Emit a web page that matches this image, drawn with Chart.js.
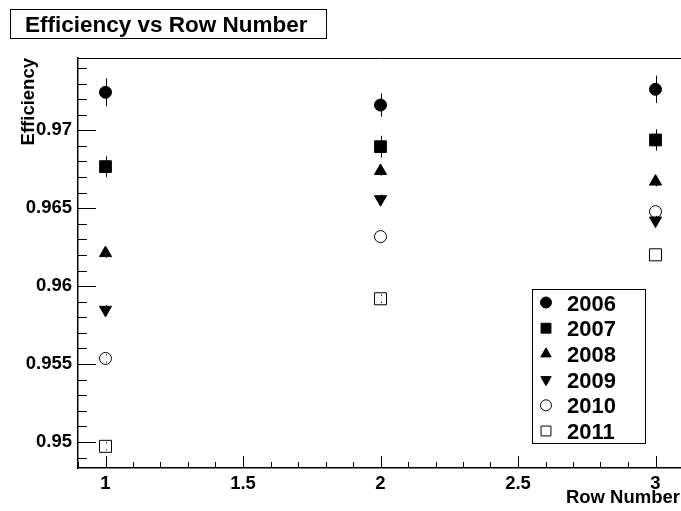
<!DOCTYPE html>
<html>
<head>
<meta charset="utf-8">
<script src="https://cdn.jsdelivr.net/npm/chart.js@4/dist/chart.umd.min.js"></script>
<style>
  html, body { margin: 0; padding: 0; background: #fff; overflow: hidden; }
  #wrap { position: absolute; left: 0; top: 0; width: 700px; height: 511px; }
</style>
</head>
<body>
<div id="wrap"><canvas id="myChart" width="700" height="511"></canvas></div>
<script>
// values
var rows = [1, 2, 3];
var years = ['2006', '2007', '2008', '2009', '2010', '2011'];

var eff2006 = [0.97244, 0.97162, 0.97263];
var eff2007 = [0.96767, 0.96895, 0.96938];
var eff2008 = [0.96212, 0.96739, 0.96671];
var eff2009 = [0.95848, 0.96558, 0.96421];
var eff2010 = [0.95536, 0.96318, 0.96478];
var eff2011 = [0.94972, 0.95919, 0.96201];

var err2006 = [0.0009, 0.00075, 0.00088];
var err2007 = [0.00066, 0.0007, 0.00068];
var err2008 = [0.0003, 0.0003, 0.0003];
var err2009 = [0.0003, 0.0003, 0.0003];
var err2010 = [0.00026, 0.0001, 0.0001];
var err2011 = [0.00026, 0.00028, 0.0001];

var yTicks = [0.95, 0.955, 0.96, 0.965, 0.97];
var xTicks = [1, 1.5, 2, 2.5, 3];

var FONT = '"Liberation Sans", Arial, Helvetica, sans-serif';

var values = [eff2006, eff2007, eff2008, eff2009, eff2010, eff2011];
var errors = [err2006, err2007, err2008, err2009, err2010, err2011];
var styles = [
    {pointStyle: 'circle', rotation: 0, radius: 6, legendRadius: 5.5, fill: '#000'},
    {pointStyle: 'rect', rotation: 0, radius: 8.3, legendRadius: 7, fill: '#000'},
    {pointStyle: 'triangle', rotation: 0, radius: 7, legendRadius: 6, fill: '#000'},
    {pointStyle: 'triangle', rotation: 180, radius: 7, legendRadius: 6, fill: '#000'},
    {pointStyle: 'circle', rotation: 0, radius: 6, legendRadius: 5.5, fill: 'rgba(0,0,0,0)'},
    {pointStyle: 'rect', rotation: 0, radius: 8.5, legendRadius: 7, fill: 'rgba(0,0,0,0)'}
];

var datasets = [];
for (var i = 0; i < years.length; i++) {
    var pts = [];
    for (var j = 0; j < rows.length; j++) {
        pts.push({x: rows[j], y: values[i][j], err: errors[i][j]});
    }
    datasets.push({
        label: years[i],
        data: pts,
        showLine: false,
        pointStyle: styles[i].pointStyle,
        rotation: styles[i].rotation,
        pointRadius: styles[i].radius,
        pointHoverRadius: styles[i].radius,
        backgroundColor: styles[i].fill,
        borderColor: '#000',
        borderWidth: 1
    });
}

function near(v, list) {
    for (var k = 0; k < list.length; k++) {
        if (Math.abs(v - list[k]) < 1e-6) return true;
    }
    return false;
}

// error bars, drawn under the markers
var errorBars = {
    id: 'errorBars',
    beforeDatasetsDraw: function(chart) {
        var ctx = chart.ctx;
        var ys = chart.scales.y, xs = chart.scales.x;
        var gap = 3;
        ctx.save();
        ctx.strokeStyle = '#000';
        ctx.lineWidth = 1;
        chart.data.datasets.forEach(function(ds) {
            ds.data.forEach(function(p) {
                var px = Math.round(xs.getPixelForValue(p.x)) + 0.5;
                var py = ys.getPixelForValue(p.y);
                var top = ys.getPixelForValue(p.y + p.err);
                var bot = ys.getPixelForValue(p.y - p.err);
                ctx.beginPath();
                if (py - top > gap) { ctx.moveTo(px, top); ctx.lineTo(px, py - gap); }
                if (bot - py > gap) { ctx.moveTo(px, py + gap); ctx.lineTo(px, bot); }
                ctx.stroke();
            });
        });
        ctx.restore();
    }
};

// frame, inward ticks, x title, legend box and title box
var decorations = {
    id: 'decorations',
    afterDraw: function(chart) {
        var ctx = chart.ctx;
        var a = chart.chartArea;
        var xs = chart.scales.x, ys = chart.scales.y;
        ctx.save();
        ctx.strokeStyle = '#000';
        ctx.lineWidth = 1;

        // top line of frame
        ctx.beginPath();
        ctx.moveTo(a.left, Math.round(a.top) + 0.5);
        ctx.lineTo(a.right, Math.round(a.top) + 0.5);
        ctx.stroke();

        // y ticks
        ys.ticks.forEach(function(t) {
            var py = Math.round(ys.getPixelForValue(t.value)) + 0.5;
            var len = near(t.value, yTicks) ? 18 : 9;
            ctx.beginPath();
            ctx.moveTo(a.left, py);
            ctx.lineTo(a.left + len, py);
            ctx.stroke();
        });
        // x ticks
        xs.ticks.forEach(function(t) {
            var px = Math.round(xs.getPixelForValue(t.value)) + 0.5;
            var len = near(t.value, xTicks) ? 12 : 6;
            ctx.beginPath();
            ctx.moveTo(px, a.bottom);
            ctx.lineTo(px, a.bottom - len);
            ctx.stroke();
        });

        // x axis title
        ctx.fillStyle = '#000';
        ctx.font = 'bold 18.5px ' + FONT;
        ctx.textAlign = 'right';
        ctx.textBaseline = 'alphabetic';
        ctx.fillText('Row Number', 680, 502.5);

        // legend
        var lx = 532.5, ly = 289.5, lw = 113, lh = 154;
        ctx.fillStyle = '#fff';
        ctx.fillRect(lx, ly, lw, lh);
        ctx.strokeRect(lx, ly, lw, lh);
        ctx.font = 'bold 22px ' + FONT;
        ctx.textAlign = 'left';
        chart.data.datasets.forEach(function(ds, i) {
            var cy = 302.5 + i * 25.7;
            ctx.fillStyle = styles[i].fill;
            ctx.strokeStyle = '#000';
            ctx.lineWidth = 1;
            Chart.helpers.drawPoint(ctx, {
                pointStyle: styles[i].pointStyle,
                rotation: styles[i].rotation,
                radius: styles[i].legendRadius,
                borderWidth: 1
            }, 546, cy);
            ctx.fillStyle = '#000';
            ctx.fillText(ds.label, 567, cy + 8);
        });

        // title box
        ctx.strokeStyle = '#000';
        ctx.lineWidth = 1;
        ctx.fillStyle = '#fff';
        ctx.fillRect(10.5, 9.5, 316, 29);
        ctx.strokeRect(10.5, 9.5, 316, 29);
        ctx.fillStyle = '#000';
        ctx.font = 'bold 22.5px ' + FONT;
        ctx.fillText('Efficiency vs Row Number', 25, 31.5);
        ctx.restore();
    }
};

var config = {
    type: 'scatter',
    data: {datasets: datasets},
    options: {
        responsive: false,
        animation: false,
        events: [],
        devicePixelRatio: 1,
        layout: {padding: {top: 58, right: 17, left: 0, bottom: 0}},
        plugins: {
            legend: {display: false},
            tooltip: {enabled: false},
            title: {display: false}
        },
        scales: {
            x: {
                type: 'linear',
                min: 0.9,
                max: 3.1,
                afterFit: function(scale) { scale.height = 43; },
                grid: {display: false, drawTicks: false},
                border: {display: true, color: '#000', width: 1.5},
                ticks: {
                    stepSize: 0.1,
                    includeBounds: false,
                    autoSkip: false,
                    maxRotation: 0,
                    padding: 4.5,
                    color: '#000',
                    font: {family: FONT, size: 18.5, weight: 'bold'},
                    callback: function(v) {
                        return near(v, xTicks) ? String(Math.round(v * 10) / 10) : '';
                    }
                }
            },
            y: {
                type: 'linear',
                min: 0.94833,
                max: 0.97464,
                afterFit: function(scale) { scale.width = 78; },
                grid: {display: false, drawTicks: false},
                border: {display: true, color: '#000', width: 1.5},
                ticks: {
                    stepSize: 0.001,
                    includeBounds: false,
                    autoSkip: false,
                    padding: 6,
                    color: '#000',
                    font: {family: FONT, size: 18.5, weight: 'bold'},
                    callback: function(v) {
                        return near(v, yTicks) ? String(Math.round(v * 1000) / 1000) : '';
                    }
                },
                title: {
                    display: true,
                    text: 'Efficiency',
                    align: 'end',
                    color: '#000',
                    padding: {top: 17.5, bottom: 0},
                    font: {family: FONT, size: 18.5, weight: 'bold'}
                }
            }
        }
    },
    plugins: [errorBars, decorations]
};

var myChart = new Chart(document.getElementById('myChart'), config);
</script>
</body>
</html>
